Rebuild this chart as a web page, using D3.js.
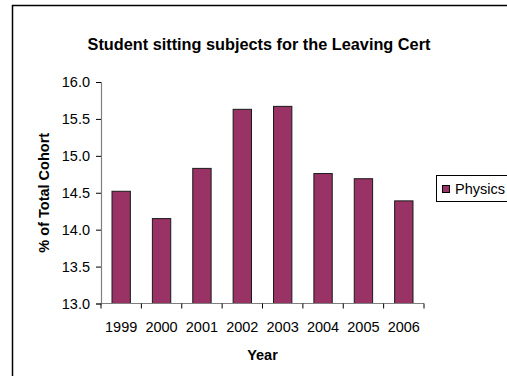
<!DOCTYPE html>
<html>
<head>
<meta charset="utf-8">
<script src="https://cdn.jsdelivr.net/npm/d3@7"></script>
<style>
  html, body { margin: 0; padding: 0; background: #fff; }
  svg { display: block; font-family: Arial, "Liberation Sans", sans-serif; }
</style>
</head>
<body>
<svg id="chart" width="507" height="376"></svg>
<script>
// Share of the Leaving Cert cohort sitting Physics, by year
const years = ["1999", "2000", "2001", "2002", "2003", "2004", "2005", "2006"];
const physics = [14.52, 14.15, 14.83, 15.63, 15.67, 14.76, 14.69, 14.39];
const yTicks = [13.0, 13.5, 14.0, 14.5, 15.0, 15.5, 16.0];
const seriesName = "Physics";

const svg = d3.select("#chart");
const plot = { left: 101, right: 424, top: 82, bottom: 303.5 };
const barColor = "#993366";
const labelSize = 14.5;

// outer chart frame (runs off the right and bottom edges)
svg.append("rect")
  .attr("x", 12.5).attr("y", 5.5)
  .attr("width", 520).attr("height", 400)
  .attr("fill", "none").attr("stroke", "#000").attr("stroke-width", 1.5);

const x = d3.scaleBand().domain(years).range([plot.left, plot.right]).paddingInner(0).paddingOuter(0);
const y = d3.scaleLinear().domain([13, 16]).range([plot.bottom, plot.top]);

// bars
const barW = x.bandwidth() / 2.2;
svg.append("g").selectAll("rect")
  .data(physics)
  .join("rect")
  .attr("x", (d, i) => x(years[i]) + (x.bandwidth() - barW) / 2)
  .attr("y", d => y(d))
  .attr("width", barW)
  .attr("height", d => y(13) - y(d))
  .attr("fill", barColor)
  .attr("stroke", "#1a1a1a")
  .attr("stroke-width", 1);

// y axis
const yAxis = svg.append("g")
  .attr("transform", `translate(${plot.left},0)`)
  .call(d3.axisLeft(y).tickValues(yTicks).tickFormat(d3.format(".1f")).tickSize(5).tickPadding(6));
yAxis.select(".domain").attr("stroke", "#808080").attr("stroke-width", 1.2);
yAxis.selectAll(".tick line").attr("stroke", "#000");
yAxis.selectAll(".tick text").attr("font-size", labelSize).attr("fill", "#000")
  .attr("font-family", "Arial, 'Liberation Sans', sans-serif");

// x axis with ticks on category boundaries
const xAxisG = svg.append("g").attr("transform", `translate(0,${plot.bottom})`);
xAxisG.append("line")
  .attr("x1", plot.left).attr("x2", plot.right)
  .attr("stroke", "#808080").attr("stroke-width", 1.2);
const boundaries = years.map(d => x(d)).concat([plot.right]);
xAxisG.selectAll("line.tk")
  .data(boundaries)
  .join("line")
  .attr("class", "tk")
  .attr("x1", d => d).attr("x2", d => d)
  .attr("y1", 0).attr("y2", 5)
  .attr("stroke", "#000");
xAxisG.selectAll("text")
  .data(years)
  .join("text")
  .attr("x", d => x(d) + x.bandwidth() / 2)
  .attr("y", 28)
  .attr("text-anchor", "middle")
  .attr("font-size", labelSize)
  .text(d => d);

// title and axis titles
svg.append("text")
  .attr("x", 259).attr("y", 50)
  .attr("text-anchor", "middle")
  .attr("font-size", 16.3).attr("font-weight", "bold")
  .text("Student sitting subjects for the Leaving Cert");

svg.append("text")
  .attr("transform", `translate(49,${(plot.top + plot.bottom) / 2}) rotate(-90)`)
  .attr("text-anchor", "middle")
  .attr("font-size", labelSize).attr("font-weight", "bold")
  .text("% of Total Cohort");

svg.append("text")
  .attr("x", (plot.left + plot.right) / 2).attr("y", 360)
  .attr("text-anchor", "middle")
  .attr("font-size", labelSize).attr("font-weight", "bold")
  .text("Year");

// legend
const legend = svg.append("g");
legend.append("rect")
  .attr("x", 436.5).attr("y", 175.5)
  .attr("width", 80).attr("height", 26)
  .attr("fill", "#fff").attr("stroke", "#000").attr("stroke-width", 1);
legend.append("rect")
  .attr("x", 442.5).attr("y", 185.5)
  .attr("width", 7).attr("height", 7)
  .attr("fill", barColor).attr("stroke", "#000").attr("stroke-width", 1);
legend.append("text")
  .attr("x", 455).attr("y", 193.5)
  .attr("font-size", labelSize)
  .text(seriesName);
</script>
</body>
</html>
